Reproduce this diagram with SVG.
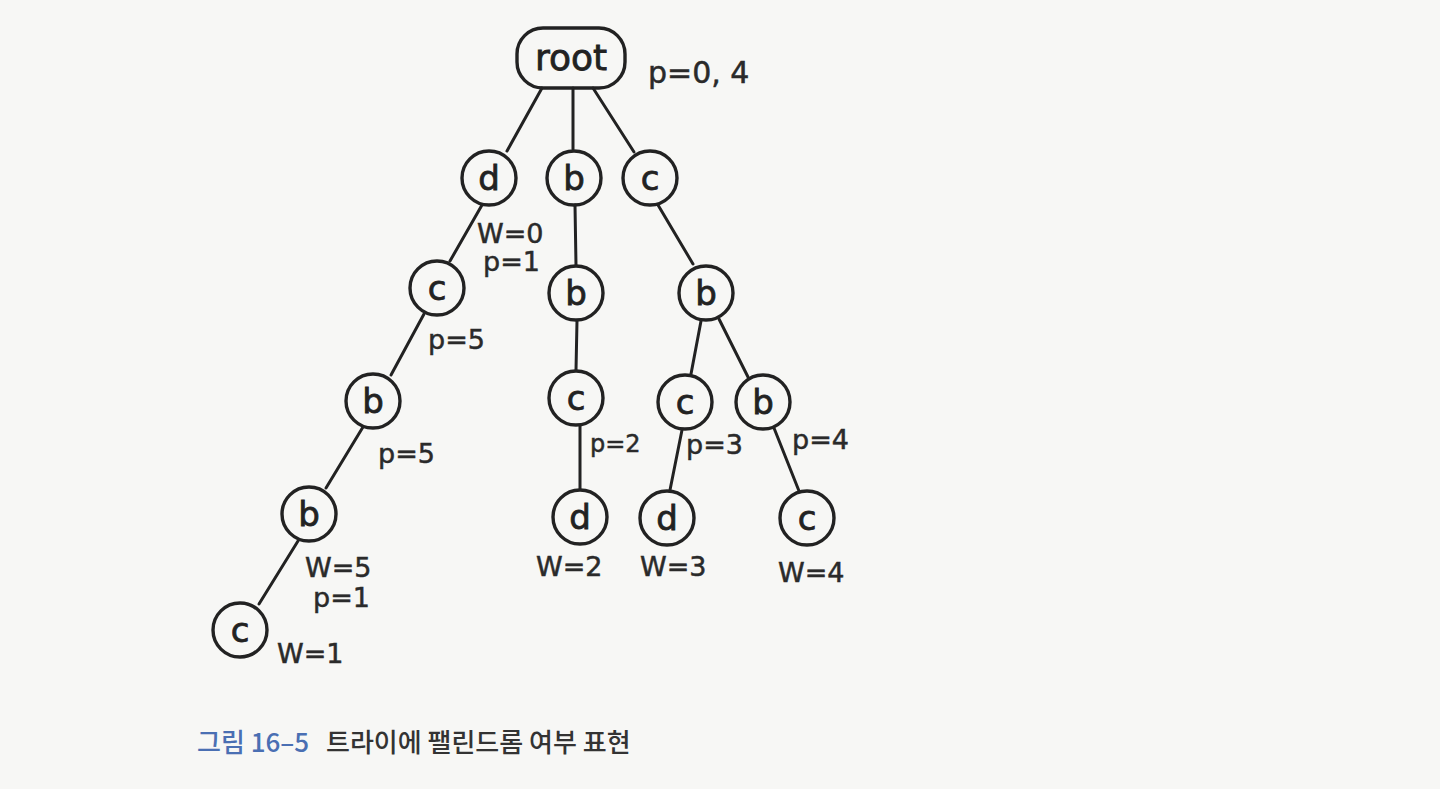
<svg xmlns="http://www.w3.org/2000/svg" width="1440" height="789" viewBox="0 0 1440 789">
<style>
.n{fill:none;stroke:#222;stroke-width:3.4}
.e{stroke:#222;stroke-width:3;stroke-linecap:round;fill:none}
.t{font-family:"DejaVu Sans","Noto Sans",sans-serif;font-size:34px;fill:#222;stroke:#222;stroke-width:0.8;text-anchor:middle}
.l{font-family:"DejaVu Sans","Noto Sans",sans-serif;font-size:27px;fill:#2a2a2a;stroke:#2a2a2a;stroke-width:0.5}
.cap{font-family:"Noto Sans CJK KR","Noto Sans",sans-serif;font-size:26px;font-weight:500;fill:#333}
</style>
<rect width="1440" height="789" fill="#f7f7f5"/>
<g id="connectors">
<line class="e" x1="542" y1="88" x2="507" y2="151"/>
<line class="e" x1="573" y1="88" x2="573" y2="149"/>
<line class="e" x1="593" y1="88" x2="634" y2="152"/>
<line class="e" x1="482" y1="205" x2="450" y2="261"/>
<line class="e" x1="424" y1="314" x2="391" y2="375"/>
<line class="e" x1="363" y1="427" x2="326" y2="488"/>
<line class="e" x1="298" y1="541" x2="259" y2="604"/>
<line class="e" x1="575" y1="205" x2="576" y2="265"/>
<line class="e" x1="577" y1="321" x2="576" y2="370"/>
<line class="e" x1="580" y1="426" x2="580" y2="489"/>
<line class="e" x1="658" y1="205" x2="693" y2="264"/>
<line class="e" x1="701" y1="321" x2="691" y2="374"/>
<line class="e" x1="719" y1="319" x2="748" y2="377"/>
<line class="e" x1="682" y1="430" x2="670" y2="490"/>
<line class="e" x1="774" y1="428" x2="799" y2="491"/>
</g>
<g id="root"><rect class="n" x="517" y="28" width="108" height="60" rx="26"/><text class="t" x="571" y="70" style="font-size:36px">root</text></g>
<g id="d1"><circle class="n" cx="489" cy="178" r="27"/><text class="t" x="489" y="190">d</text></g>
<g id="b1"><circle class="n" cx="574" cy="178" r="27"/><text class="t" x="574" y="190">b</text></g>
<g id="c1"><circle class="n" cx="650" cy="178" r="27"/><text class="t" x="650" y="190">c</text></g>
<g id="c2"><circle class="n" cx="437" cy="288" r="27"/><text class="t" x="437" y="300">c</text></g>
<g id="b2"><circle class="n" cx="373" cy="401" r="27"/><text class="t" x="373" y="413">b</text></g>
<g id="b3"><circle class="n" cx="309" cy="514" r="27"/><text class="t" x="309" y="526">b</text></g>
<g id="c3"><circle class="n" cx="240" cy="630" r="27"/><text class="t" x="240" y="642">c</text></g>
<g id="b4"><circle class="n" cx="576" cy="293" r="27"/><text class="t" x="576" y="305">b</text></g>
<g id="c4"><circle class="n" cx="576" cy="398" r="27"/><text class="t" x="576" y="410">c</text></g>
<g id="d4"><circle class="n" cx="580" cy="517" r="27"/><text class="t" x="580" y="529">d</text></g>
<g id="b5"><circle class="n" cx="706" cy="293" r="27"/><text class="t" x="706" y="305">b</text></g>
<g id="c5"><circle class="n" cx="685" cy="402" r="27"/><text class="t" x="685" y="414">c</text></g>
<g id="b6"><circle class="n" cx="763" cy="402" r="27"/><text class="t" x="763" y="414">b</text></g>
<g id="d5"><circle class="n" cx="667" cy="518" r="27"/><text class="t" x="667" y="530">d</text></g>
<g id="c6"><circle class="n" cx="807" cy="518" r="27"/><text class="t" x="807" y="530">c</text></g>
<g id="labels">
<text class="l" x="648" y="83" style="font-size:30px">p=0, 4</text>
<text class="l" x="477" y="243">W=0</text>
<text class="l" x="483" y="271">p=1</text>
<text class="l" x="428" y="349">p=5</text>
<text class="l" x="378" y="463">p=5</text>
<text class="l" x="305" y="577">W=5</text>
<text class="l" x="313" y="607">p=1</text>
<text class="l" x="277" y="663">W=1</text>
<text class="l" x="590" y="452" style="font-size:24px">p=2</text>
<text class="l" x="536" y="576">W=2</text>
<text class="l" x="686" y="454">p=3</text>
<text class="l" x="640" y="576">W=3</text>
<text class="l" x="792" y="449">p=4</text>
<text class="l" x="778" y="582">W=4</text>
</g>
<g id="caption">
<text class="cap" x="197" y="752"><tspan fill="#4a6fb3">그림 16–5</tspan><tspan x="326">트라이에 팰린드롬 여부 표현</tspan></text>
</g>
</svg>
